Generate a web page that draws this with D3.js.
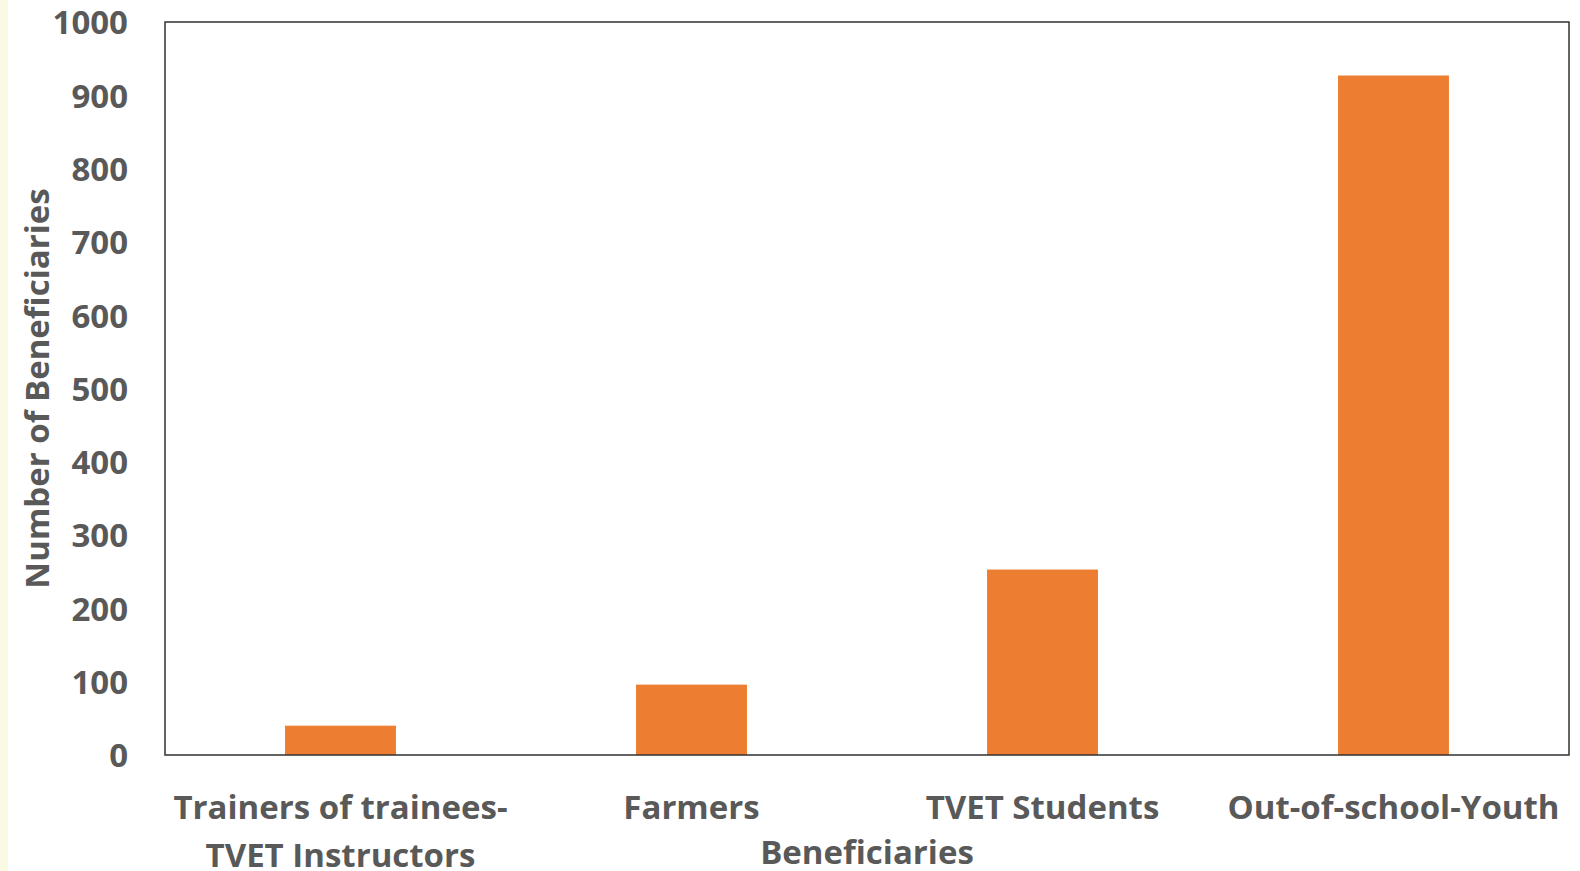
<!DOCTYPE html>
<html><head><meta charset="utf-8">
<script src="https://cdn.jsdelivr.net/npm/d3@7"></script>
<style>
html,body{margin:0;padding:0;background:#fff;}
svg{display:block;}
</style></head>
<body>
<script>
const categories = ["Trainers of trainees-TVET Instructors", "Farmers", "TVET Students", "Out-of-school-Youth"];
const values = [40, 96, 253, 927];
const yTicks = [0, 100, 200, 300, 400, 500, 600, 700, 800, 900, 1000];
const xTitle = "Beneficiaries";
const yTitle = "Number of Beneficiaries";

const W = 1580, H = 871;
const FONT = "'Open Sans', Lato, sans-serif";
const FS = "33px";
const TXT = "#595959";
const svg = d3.select("body").append("svg").attr("width", W).attr("height", H);

svg.append("rect").attr("x",0).attr("y",0).attr("width",8).attr("height",H).attr("fill","#FAFAE4");

const plot = {left:165, right:1569, top:22, bottom:755};
const x = d3.scaleBand().domain(categories).range([plot.left, plot.right]).paddingInner(0.684).paddingOuter(0.342);
const y = d3.scaleLinear().domain([0,1000]).range([plot.bottom, plot.top]);

// bars
svg.append("g").selectAll("rect").data(categories).join("rect")
  .attr("x", d => x(d)).attr("width", x.bandwidth())
  .attr("y", (d,i) => y(values[i])).attr("height", (d,i) => y(0) - y(values[i]))
  .attr("fill", "#ED7D31");

// box
svg.append("rect").attr("x", plot.left).attr("y", plot.top)
  .attr("width", plot.right-plot.left).attr("height", plot.bottom-plot.top)
  .attr("fill","none").attr("stroke","#303030").attr("stroke-width",1.5);

// y axis
const yAxis = d3.axisLeft(y).tickValues(yTicks).tickSize(0).tickPadding(0).tickFormat(d3.format("d"));
const gy = svg.append("g").attr("transform", `translate(128,0)`).call(yAxis);
gy.select(".domain").remove();
gy.selectAll("text").attr("fill", TXT).style("font-family", FONT).style("font-weight", 700).style("font-size",FS).attr("dy","0.36em");

// x axis
const xAxis = d3.axisBottom(x).tickSize(0).tickPadding(0).tickFormat("");
const gx = svg.append("g").attr("transform", `translate(0,${plot.bottom})`).call(xAxis);
gx.select(".domain").remove();
gx.selectAll(".tick").each(function(d){
  const t = d3.select(this).append("text").attr("fill", TXT).attr("text-anchor","middle")
    .style("font-family", FONT).style("font-weight",700).style("font-size",FS);
  // greedy wrap at spaces/hyphens
  const tokens = d.match(/[^\s-]+-?\s*/g);
  const maxW = x.step();
  let lines = [], cur = "";
  const probe = t.append("tspan");
  tokens.forEach(tok => {
    const test = cur + tok;
    probe.text(test.trim());
    if (cur && probe.node().getComputedTextLength() > maxW) { lines.push(cur.trim()); cur = tok; }
    else cur = test;
  });
  lines.push(cur.trim());
  probe.remove();
  lines.forEach((l,i) => t.append("tspan").attr("x",0).attr("y", 64 + i*48).text(l));
});

// titles
svg.append("text").attr("x", (plot.left+plot.right)/2).attr("y", 864).attr("text-anchor","middle")
  .attr("fill",TXT).style("font-family",FONT).style("font-weight",700).style("font-size",FS).text(xTitle);
svg.append("text").attr("transform", `translate(49,${(plot.top+plot.bottom)/2}) rotate(-90)`).attr("text-anchor","middle")
  .attr("fill",TXT).style("font-family",FONT).style("font-weight",700).style("font-size",FS).text(yTitle);
</script>
</body></html>
